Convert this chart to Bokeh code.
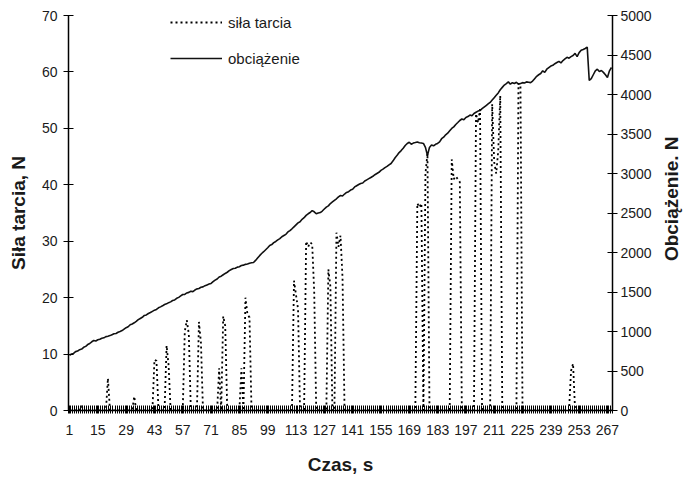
import math
from bokeh.plotting import figure
from bokeh.layouts import row
from bokeh.models import (Range1d, LinearAxis, FixedTicker, Legend, LegendItem,
                          ColumnDataSource)
from bokeh.core.properties import value
from bokeh.embed import file_html
from bokeh.resources import INLINE

# ---------------- data ----------------
time_s = list(range(1, 270))  # category index (1 s steps)

x_tick_labels = [1, 15, 29, 43, 57, 71, 85, 99, 113, 127, 141, 155, 169, 183,
                 197, 211, 225, 239, 253, 267]

load_N = [
    700, 715, 722, 745, 752, 770, 778, 800, 812, 835,
    848, 870, 886, 880, 895, 902, 915, 920, 935, 940,
    948, 960, 972, 975, 990, 1000, 1012, 1030, 1048, 1060,
    1085, 1095, 1110, 1128, 1150, 1165, 1180, 1203, 1210, 1228,
    1240, 1255, 1270, 1280, 1300, 1312, 1325, 1342, 1350, 1365,
    1375, 1392, 1400, 1420, 1432, 1450, 1468, 1470, 1488, 1495,
    1510, 1505, 1525, 1540, 1545, 1560, 1565, 1580, 1590, 1600,
    1608, 1630, 1650, 1665, 1690, 1700, 1718, 1735, 1750, 1770,
    1785, 1797, 1800, 1815, 1820, 1835, 1840, 1850, 1855, 1865,
    1870, 1873, 1900, 1930, 1960, 1987, 2010, 2035, 2060, 2089,
    2100, 2125, 2140, 2160, 2175, 2200, 2215, 2230, 2260, 2278,
    2300, 2325, 2350, 2375, 2390, 2420, 2440, 2470, 2490, 2506,
    2530, 2515, 2490, 2500, 2506, 2525, 2550, 2575, 2590, 2620,
    2640, 2660, 2680, 2705, 2722, 2715, 2740, 2760, 2770, 2790,
    2800, 2830, 2845, 2860, 2873, 2880, 2905, 2920, 2935, 2950,
    2965, 2985, 3000, 3015, 3040, 3055, 3075, 3090, 3110, 3127,
    3160, 3200, 3230, 3265, 3290, 3320, 3355, 3380, 3395, 3370,
    3385, 3392, 3400, 3390, 3385, 3380, 3330, 3228, 3330, 3360,
    3350, 3370, 3380, 3400, 3440, 3460, 3490, 3510, 3540, 3570,
    3590, 3620, 3645, 3671, 3690, 3680, 3710, 3720, 3740, 3730,
    3760, 3775, 3790, 3797, 3820, 3840, 3860, 3880, 3899, 3930,
    3960, 3990, 4020, 4060, 4090, 4120, 4139, 4160, 4130, 4150,
    4140, 4155, 4130, 4139, 4150, 4145, 4160, 4155, 4150, 4170,
    4200, 4230, 4250, 4266, 4300, 4280, 4320, 4340, 4360, 4370,
    4390, 4405, 4420, 4400, 4430, 4450, 4470, 4460, 4480, 4494,
    4520, 4480, 4530, 4560, 4570, 4582, 4600, 4177, 4200, 4250,
    4300, 4320, 4290, 4304, 4280, 4250, 4215, 4300, 4342,
]

# friction force: zero except during slip events (time index -> N)
spike_times = [7, 20, 33, 43, 44, 49, 50, 58, 59, 60, 65, 66, 75, 77, 78,
               86, 88, 89, 90, 112, 113, 114, 118, 119, 120, 121, 122, 129, 130,
               133, 134, 135, 136, 173, 174, 175, 177, 178,
               190, 191, 192, 193, 194, 202, 203, 204,
               210, 211, 212, 213, 214, 223, 224, 249, 250]
spike_values = [0.8, 5.7, 2.5, 9.0, 8.8, 11.5, 8.0, 14.0, 16.0, 13.5, 15.7, 12.0, 7.5, 16.7, 15.0,
                7.5, 20.0, 17.0, 16.5, 23.0, 20.5, 18.0, 30.0, 29.0, 29.8, 29.5, 21.0, 25.0, 22.0,
                31.5, 29.0, 31.0, 23.5, 36.7, 36.0, 36.7, 42.0, 45.5,
                44.5, 41.0, 41.5, 41.0, 40.5, 52.6, 51.0, 53.4,
                54.3, 44.0, 42.0, 46.0, 55.8, 58.0, 57.5, 7.0, 8.3]

friction_N = [0.0] * len(time_s)
for t, v in zip(spike_times, spike_values):
    friction_N[t - 1] = v

src = ColumnDataSource(dict(t=time_s, load=load_N, friction=friction_N))

FONT = "Liberation Sans"
TXT = "#1a1a1a"

p = figure(width=656, height=482, output_backend="svg", toolbar_location=None,
           x_range=Range1d(0.5, 269.5), y_range=Range1d(0, 70),
           min_border_left=68, min_border_right=44, min_border_top=15,
           min_border_bottom=72)
p.outline_line_color = None
p.xgrid.visible = False
p.ygrid.visible = False
p.extra_y_ranges = {"load": Range1d(0, 5000)}

r_load = p.line("t", "load", source=src, y_range_name="load",
                line_color="#111111", line_width=1.6)
r_fric = p.line("t", "friction", source=src, line_color="#000000",
                line_width=1.8, line_dash="2 3")

# axes styling
xa = p.xaxis[0]
xa.ticker = FixedTicker(ticks=x_tick_labels,
                        minor_ticks=[t - 0.5 for t in time_s] + [269.5])
xa.axis_label = "Czas, s"
xa.major_tick_in = 5
xa.major_tick_out = 3
xa.minor_tick_in = 5
xa.minor_tick_out = 3
xa.minor_tick_line_color = "#000000"
xa.major_tick_line_color = "#000000"
xa.major_label_standoff = 11
xa.axis_label_standoff = 16

ya = p.yaxis[0]
ya.ticker = FixedTicker(ticks=[0, 10, 20, 30, 40, 50, 60, 70])
ya.axis_label = "Siła tarcia, N"
ya.major_tick_in = 5
ya.major_tick_out = 5
ya.minor_tick_line_color = None
ya.major_label_standoff = 6
ya.axis_label_standoff = 10

ra = LinearAxis(y_range_name="load",
                ticker=FixedTicker(ticks=[0, 500, 1000, 1500, 2000, 2500,
                                          3000, 3500, 4000, 4500, 5000]))
ra.major_tick_in = 5
ra.major_tick_out = 5
ra.minor_tick_line_color = None
ra.major_label_standoff = 3
p.add_layout(ra, "right")

for ax in (xa, ya, ra):
    ax.axis_line_color = "#000000"
    ax.axis_line_width = 1.5
    ax.major_tick_line_width = 1
    ax.major_label_text_font = FONT
    ax.major_label_text_font_size = "14px"
    ax.major_label_text_color = TXT
    ax.axis_label_text_font = FONT
    ax.axis_label_text_font_size = "19px"
    ax.axis_label_text_font_style = "bold"
    ax.axis_label_text_color = TXT

legend = Legend(items=[LegendItem(label="siła tarcia", renderers=[r_fric]),
                       LegendItem(label="obciążenie", renderers=[r_load])],
                location=(102, 342))
legend.border_line_color = None
legend.background_fill_alpha = 0
legend.padding = 0
legend.margin = 0
legend.spacing = 16
legend.glyph_width = 52
legend.glyph_height = 20
legend.label_height = 20
legend.label_standoff = 6
legend.label_text_font = FONT
legend.label_text_font_size = "15px"
legend.label_text_color = TXT
p.add_layout(legend)

# narrow strip to the right carrying the right-axis title (reads bottom-to-top)
p2 = figure(width=30, height=482, output_backend="svg", toolbar_location=None,
            x_range=Range1d(0, 1), y_range=Range1d(0, 5000),
            min_border_left=0, min_border_right=0, min_border_top=15,
            min_border_bottom=72)
p2.axis.visible = False
p2.grid.visible = False
p2.outline_line_color = None
p2.text(x=[0.5], y=[2680], text=["Obciążenie. N"], angle=math.pi / 2,
        text_align="center", text_baseline="middle",
        text_font=value(FONT), text_font_size="19px",
        text_font_style="bold", text_color=TXT)

layout = row(p, p2, spacing=0)
open("out.html", "w").write(file_html(layout, INLINE))
